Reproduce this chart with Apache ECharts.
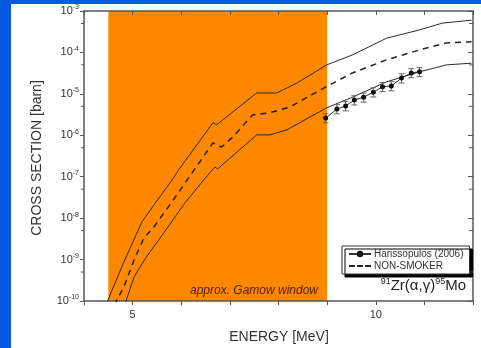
<!DOCTYPE html>
<html><head><meta charset="utf-8">
<script src="https://cdn.jsdelivr.net/npm/echarts@6/dist/echarts.min.js"></script>
<style>html,body{margin:0;padding:0;background:#fff}#c{width:481px;height:348px}</style>
</head><body><div id="c"></div>
<script>
// Energies (MeV) and cross sections (barn)
const upperE = [4.45, 4.82, 5.19, 5.44, 5.81, 5.97, 6.65, 6.73, 7.55, 7.96, 8.37, 8.99, 9.52, 10.22, 10.90, 11.37, 11.97];
const upperV = [8e-11, 8.7e-10, 8.1e-9, 2.1e-8, 8.3e-8, 1.6e-7, 2.0e-6, 1.8e-6, 1.05e-5, 1.05e-5, 1.8e-5, 5.0e-5, 8.7e-5, 2.2e-4, 3.5e-4, 5.1e-4, 6.0e-4];
const nsE = [4.62, 4.82, 5.03, 5.23, 5.44, 5.79, 6.05, 6.65, 6.83, 7.06, 7.47, 7.82, 8.23, 8.99, 9.52, 10.22, 10.90, 11.45, 11.97];
const nsV = [8e-11, 2.2e-10, 9.8e-10, 3.3e-9, 6.2e-9, 2.3e-8, 6.3e-8, 6.5e-7, 5.2e-7, 9.1e-7, 3.1e-6, 3.5e-6, 4.8e-6, 1.5e-5, 3.2e-5, 6.6e-5, 1.15e-4, 1.7e-4, 1.8e-4];
const lowerE = [4.85, 5.03, 5.27, 5.58, 6.06, 6.46, 6.69, 6.75, 7.55, 7.82, 8.17, 8.99, 9.52, 10.22, 10.90, 11.45, 11.97];
const lowerV = [9e-11, 3.8e-10, 1.1e-9, 3.5e-9, 2.2e-8, 8.3e-8, 1.7e-7, 1.55e-7, 1.02e-6, 1.02e-6, 1.35e-6, 4.6e-6, 8.3e-6, 1.95e-5, 3.4e-5, 5.0e-5, 5.5e-5];
const expE = [8.97, 9.20, 9.38, 9.56, 9.75, 9.95, 10.14, 10.32, 10.53, 10.73, 10.90];
const expV = [2.6e-6, 4.3e-6, 5.1e-6, 7.1e-6, 8.3e-6, 1.1e-5, 1.48e-5, 1.55e-5, 2.4e-5, 3.2e-5, 3.4e-5];
const expLo = [2.0e-6, 3.3e-6, 3.9e-6, 5.4e-6, 6.3e-6, 8.4e-6, 1.13e-5, 1.18e-5, 1.83e-5, 2.45e-5, 2.6e-5];
const expHi = [3.3e-6, 5.5e-6, 6.5e-6, 9.0e-6, 1.05e-5, 1.4e-5, 1.88e-5, 1.97e-5, 3.05e-5, 4.05e-5, 4.3e-5];
const gamowWindow = [4.5, 9.0];
const xTickLabels = {5: '5', 10: '10'};
const yMinorTicks = [5e-4, 5e-5, 5e-6, 5e-7, 5e-8, 5e-9, 5e-10];

const FONT = 'Liberation Sans, Arial, sans-serif';
const zip = (a, b) => a.map((v, i) => [v, b[i]]);

const chart = echarts.init(document.getElementById('c'));
const axisLine = {show: true, lineStyle: {color: '#555', width: 1.5}};
chart.setOption({
  animation: false,
  backgroundColor: '#fff',
  graphic: [
    {type: 'rect', left: 0, top: 0, shape: {width: 11, height: 348}, style: {fill: '#0858e0'}, z: 100},
    {type: 'rect', left: 0, top: 0, shape: {width: 481, height: 4}, style: {fill: '#0858e0'}, z: 100},
    {type: 'text', x: 279, y: 337, style: {text: 'ENERGY [MeV]', font: '14px ' + FONT, fill: '#333', align: 'center', verticalAlign: 'middle'}},
    {type: 'text', x: 37, y: 158, rotation: Math.PI / 2, style: {text: 'CROSS SECTION [barn]', font: '14px ' + FONT, fill: '#333', align: 'center', verticalAlign: 'middle'}},
    {type: 'text', x: 254, y: 291, style: {text: 'approx. Gamow window', font: 'italic 12px ' + FONT, fill: '#4a1c00', align: 'center', verticalAlign: 'middle'}, z: 50},
    {type: 'text', x: 466, y: 286, style: {
      text: '{s|91}{b|Zr(α,γ)}{s|95}{b|Mo}', align: 'right', verticalAlign: 'middle',
      rich: {
        b: {fontSize: 15, fontFamily: FONT, fill: '#222', lineHeight: 18},
        s: {fontSize: 9, fontFamily: FONT, fill: '#222', verticalAlign: 'top', lineHeight: 18}
      }}, z: 50}
  ],
  legend: {
    left: 342, top: 246, orient: 'vertical', selectedMode: false,
    data: ['Harissopulos (2006)', {name: 'NON-SMOKER', icon: 'path://M0,0H6V2H0Z M8,0H14V2H8Z M16,0H22V2H16Z'}],
    itemWidth: 22, itemHeight: 8, itemGap: 2, padding: [3, 6, 3, 6],
    backgroundColor: '#fff', borderColor: '#333', borderWidth: 1,
    shadowColor: '#000', shadowOffsetX: 3, shadowOffsetY: 3, shadowBlur: 0,
    textStyle: {fontSize: 10, fontFamily: FONT, color: '#333', padding: [0, 0, 0, -2]}
  },
  grid: {left: 84, top: 11, right: 8, bottom: 47},
  xAxis: [
    {type: 'value', min: 4, max: 12, interval: 1, position: 'bottom',
      axisLine, splitLine: {show: false},
      axisTick: {show: true, inside: false, length: 4, lineStyle: {color: '#555'}},
      axisLabel: {formatter: v => xTickLabels[v] || '', fontSize: 11, fontFamily: FONT, color: '#333', margin: 8}},
    {type: 'value', min: 4, max: 12, interval: 1, position: 'top',
      axisLine, splitLine: {show: false},
      axisTick: {show: true, inside: true, length: 4, lineStyle: {color: '#555'}},
      axisLabel: {show: false}}
  ],
  yAxis: [
    {type: 'log', logBase: 10, min: 1e-10, max: 1e-3, position: 'left',
      axisLine, splitLine: {show: false},
      axisTick: {show: true, inside: false, length: 4, lineStyle: {color: '#555'}},
      axisLabel: {
        formatter: v => '{b|10}{s|' + Math.round(Math.log10(v)) + '}',
        margin: 5,
        rich: {
          b: {fontSize: 11, fontFamily: FONT, color: '#333', lineHeight: 14},
          s: {fontSize: 7, fontFamily: FONT, color: '#333', verticalAlign: 'top', lineHeight: 14}
        }}},
    {type: 'log', logBase: 10, min: 1e-10, max: 1e-3, position: 'right',
      axisLine, splitLine: {show: false},
      axisTick: {show: true, inside: true, length: 5, lineStyle: {color: '#555'}},
      axisLabel: {show: false}}
  ],
  series: [
    {type: 'custom', name: 'gamow', z: 0, silent: true, clip: true,
      data: [gamowWindow],
      renderItem: (params, api) => {
        const p1 = api.coord([api.value(0), 1e-3]);
        const p2 = api.coord([api.value(1), 1e-10]);
        return {type: 'rect', shape: {x: p1[0], y: p1[1], width: p2[0] - p1[0], height: p2[1] - p1[1]}, style: {fill: '#ff8800'}};
      }},
    {type: 'custom', name: 'minorTicks', z: 5, silent: true,
      data: yMinorTicks.map(v => [v]),
      renderItem: (params, api) => {
        const cs = params.coordSys;
        const y = api.coord([4, api.value(0)])[1];
        return {type: 'group', children: [
          {type: 'line', shape: {x1: cs.x - 3, y1: y, x2: cs.x, y2: y}, style: {stroke: '#555', lineWidth: 1}},
          {type: 'line', shape: {x1: cs.x + cs.width - 4, y1: y, x2: cs.x + cs.width, y2: y}, style: {stroke: '#555', lineWidth: 1}}
        ]};
      }},
    {type: 'line', name: 'upper', data: zip(upperE, upperV), symbol: 'none', z: 3,
      lineStyle: {color: '#2a2a2a', width: 1}, clip: true},
    {type: 'line', name: 'lower', data: zip(lowerE, lowerV), symbol: 'none', z: 3,
      lineStyle: {color: '#2a2a2a', width: 1}, clip: true},
    {type: 'line', name: 'NON-SMOKER', data: zip(nsE, nsV), symbol: 'none', z: 3,
      itemStyle: {color: '#222'},
      lineStyle: {color: '#222', width: 1.5, type: [6, 5]}, clip: true},
    {type: 'custom', name: 'err', z: 4,
      data: expE.map((e, i) => [e, expLo[i], expHi[i]]),
      renderItem: (params, api) => {
        const x = api.value(0);
        const p1 = api.coord([x, api.value(1)]);
        const p2 = api.coord([x, api.value(2)]);
        const w = 3, st = {stroke: '#666', lineWidth: 1};
        return {type: 'group', children: [
          {type: 'line', shape: {x1: p1[0], y1: p1[1], x2: p2[0], y2: p2[1]}, style: st},
          {type: 'line', shape: {x1: p1[0] - w, y1: p1[1], x2: p1[0] + w, y2: p1[1]}, style: st},
          {type: 'line', shape: {x1: p2[0] - w, y1: p2[1], x2: p2[0] + w, y2: p2[1]}, style: st}
        ]};
      }},
    {type: 'line', name: 'Harissopulos (2006)', data: zip(expE, expV), z: 6,
      symbol: 'circle', symbolSize: 5, showSymbol: true,
      itemStyle: {color: '#111'},
      lineStyle: {color: '#333', width: 1}}
  ]
});
</script>
</body></html>
